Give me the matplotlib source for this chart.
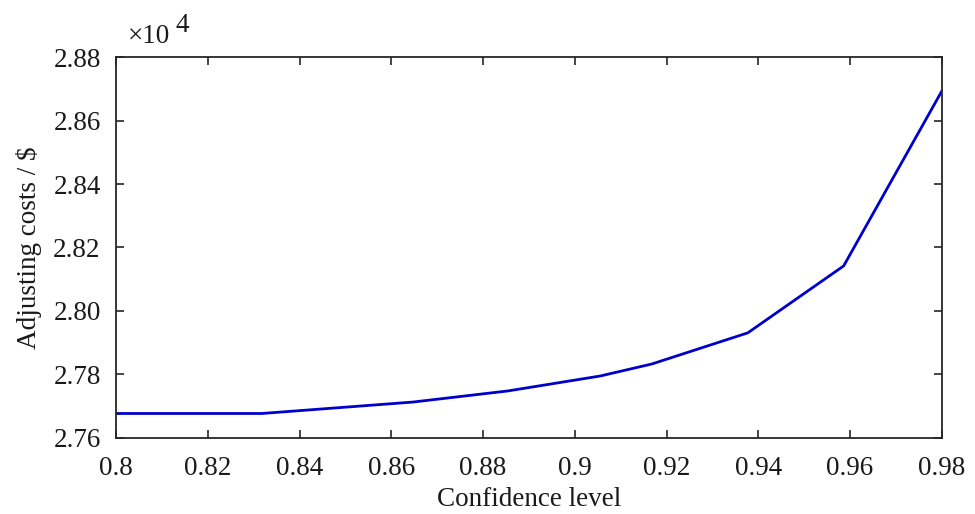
import numpy as np
import matplotlib.pyplot as plt
from matplotlib.ticker import FuncFormatter

# ========================================
# Data
# ========================================

confidence = [0.80, 0.8318, 0.8647, 0.8854, 0.9055, 0.9168, 0.9377, 0.9586, 0.98]
costs = [27677, 27677, 27713, 27748, 27795, 27833, 27931, 28142, 28693]  # $

x_ticks = [0.8, 0.82, 0.84, 0.86, 0.88, 0.9, 0.92, 0.94, 0.96, 0.98]
y_ticks = [27600, 27800, 28000, 28200, 28400, 28600, 28800]

# ========================================
# Style
# ========================================

plt.rcParams['font.family'] = ['Liberation Serif', 'DejaVu Serif']
FS = 19.5
AX_COLOR = '#262626'
TXT_COLOR = '#1a1a1a'

fig = plt.figure(figsize=(9.75, 5.14), dpi=100)
ax = fig.add_axes([0.119, 0.148, 0.847, 0.741])

ax.plot(confidence, costs, color='#0000CC', linewidth=2.0)

ax.set_xlim(0.8, 0.98)
ax.set_ylim(27600, 28800)
ax.set_xticks(x_ticks)
ax.set_yticks(y_ticks)
ax.xaxis.set_major_formatter(FuncFormatter(lambda v, p: f"{v:g}"))
ax.yaxis.set_major_formatter(FuncFormatter(lambda v, p: f"{v / 1e4:.2f}"))

ax.tick_params(direction='in', length=6, width=1.2, colors=AX_COLOR,
               labelsize=FS, labelcolor=TXT_COLOR, top=True, right=True)
ax.tick_params(axis='x', pad=13)
ax.tick_params(axis='y', pad=11)
for s in ax.spines.values():
    s.set_color(AX_COLOR)
    s.set_linewidth(1.3)

ax.set_xlabel("Confidence level", fontsize=FS, color=TXT_COLOR, labelpad=4)
ax.set_ylabel("Adjusting costs / \\$", fontsize=FS, color=TXT_COLOR, labelpad=8)

# MATLAB-style exponent label above the y axis
fig.text(0.131, 0.917, "×10", fontsize=FS, color=TXT_COLOR, va='baseline')
fig.text(0.180, 0.937, "4", fontsize=FS, color=TXT_COLOR, va='baseline')

fig.savefig("out.png", dpi=100)
